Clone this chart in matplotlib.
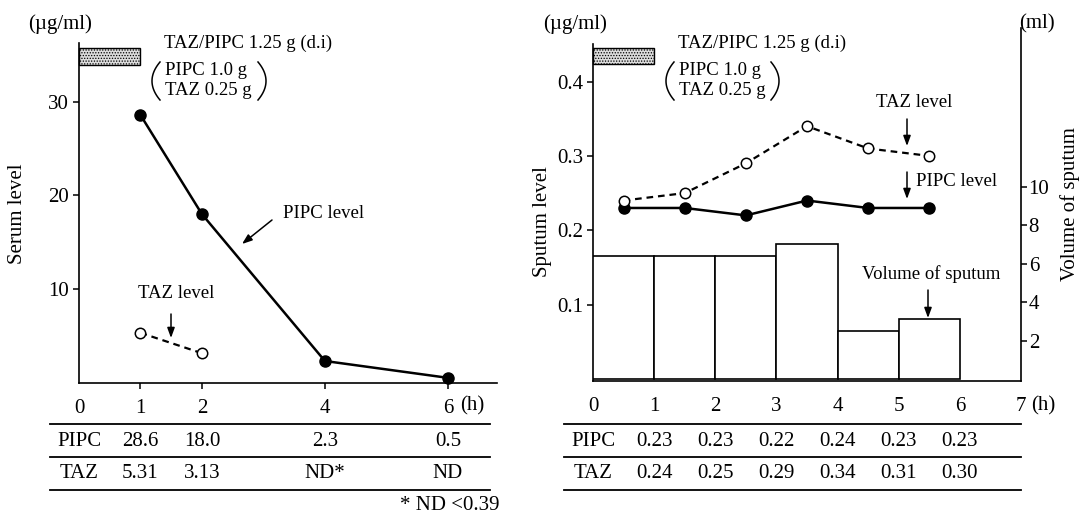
import matplotlib
matplotlib.use('Agg')
import numpy as np
import matplotlib.pyplot as plt
from matplotlib.lines import Line2D
from matplotlib.patches import Rectangle, FancyArrowPatch
import matplotlib.transforms as mtrans

# ---------------- data ----------------
serum_time = [1, 2, 4, 6]
serum_pipc = [28.6, 18.0, 2.3, 0.5]
serum_taz_time = [1, 2]
serum_taz = [5.31, 3.13]
serum_xticks = [0, 1, 2, 4, 6]
serum_yticks = [10, 20, 30]
serum_pipc_labels = ['28.6', '18.0', '2.3', '0.5']
serum_taz_labels = ['5.31', '3.13', 'ND*', 'ND']

sputum_time = [0.5, 1.5, 2.5, 3.5, 4.5, 5.5]
sputum_pipc = [0.23, 0.23, 0.22, 0.24, 0.23, 0.23]
sputum_taz = [0.24, 0.25, 0.29, 0.34, 0.31, 0.30]
sputum_bar_left = [0, 1, 2, 3, 4, 5]
sputum_volume = [6.4, 6.4, 6.4, 7.0, 2.5, 3.1]
sputum_xticks = [0, 1, 2, 3, 4, 5, 6, 7]
sputum_yticks = [0.1, 0.2, 0.3, 0.4]
volume_yticks = [2, 4, 6, 8, 10]
sputum_table_x = [1, 2, 3, 4, 5, 6]
sputum_pipc_labels = ['0.23', '0.23', '0.22', '0.24', '0.23', '0.23']
sputum_taz_labels = ['0.24', '0.25', '0.29', '0.34', '0.31', '0.30']

plt.rcParams['font.family'] = ['Liberation Serif', 'DejaVu Serif']
plt.rcParams['hatch.linewidth'] = 0.6

W, H = 1081, 513
fig = plt.figure(figsize=(W / 100, H / 100), dpi=100)
FS = 13.5      # annotations
FT = 15        # ticks / table
FL = 15        # axis labels


def fx(p):
    return p / W


def fy(p):
    return 1 - p / H


def ftext(x, y, s, **kw):
    kw.setdefault('fontsize', FS)
    kw.setdefault('ha', 'left')
    kw.setdefault('va', 'center')
    fig.text(fx(x), fy(y), s, **kw)


def hline(x0, x1, y, lw=1.3):
    fig.add_artist(Line2D([fx(x0), fx(x1)], [fy(y), fy(y)],
                          transform=fig.transFigure, color='black', lw=lw))


def arrow(x0, y0, x1, y1):
    fig.add_artist(FancyArrowPatch(
        (fx(x0), fy(y0)), (fx(x1), fy(y1)), transform=fig.transFigure,
        arrowstyle='-|>,head_length=6,head_width=2.2', color='black', lw=1.1,
        mutation_scale=1, shrinkA=0, shrinkB=0))


def parens(xl, xr, y0, y1):
    # thin tall "(" and ")" drawn as curves
    t = np.linspace(-1, 1, 40)
    yc = (y0 + y1) / 2
    half = (y1 - y0) / 2
    depth = 8
    ys = yc + half * t
    bulge = depth * (1 - t ** 2)
    for xs in [xl + depth - bulge, xr - depth + bulge]:
        fig.add_artist(Line2D(fx(xs), fy(ys), transform=fig.transFigure,
                              color='black', lw=1.1))


def style_axes(ax):
    for s in ['top', 'right']:
        ax.spines[s].set_visible(False)
    for s in ['left', 'bottom']:
        ax.spines[s].set_linewidth(1.2)
    ax.tick_params(direction='out', length=4, width=1.1, labelsize=FT)
    ax.tick_params(axis='x', pad=8)
    ax.tick_params(axis='y', pad=3)


# ---------------- left: serum ----------------
ax1 = fig.add_axes([fx(79), fy(382.5), (497 - 79) / W, (382.5 - 43) / H])
ax1.set_facecolor('none')
ax1.set_xlim(0, 6.8)
ax1.set_ylim(0, 36.3)
style_axes(ax1)
ax1.set_yticks(serum_yticks)
ax1.set_xticks(serum_xticks)
ax1.set_xticklabels([str(t) for t in serum_xticks])
ax1.xaxis.get_major_ticks()[0].tick1line.set_visible(False)

ax1.plot(serum_time, serum_pipc, color='black', lw=1.8, marker='o',
         markersize=8, markerfacecolor='black', clip_on=False, zorder=3)
ax1.plot(serum_taz_time, serum_taz, color='black', lw=1.6,
         linestyle=(0, (3, 2.2)), marker='o', markersize=7.5,
         markerfacecolor='white', markeredgewidth=1.1, clip_on=False, zorder=3)
ax1.add_patch(Rectangle((0, 34.0), 1, 1.75, facecolor='#dcdcdc',
                        edgecolor='black', hatch='......', lw=1.0,
                        clip_on=False))

ftext(18, 214, 'Serum level', rotation=90, ha='center', fontsize=FL)
ftext(60, 24, '(µg/ml)', ha='center', fontsize=FL)
ftext(164, 43, 'TAZ/PIPC 1.25 g (d.i)')
ftext(165, 71, 'PIPC 1.0 g')
ftext(165, 91, 'TAZ 0.25 g')
parens(152, 266, 62, 100)
ftext(283, 213, 'PIPC level')
arrow(272, 220, 242, 244)
ftext(138, 293, 'TAZ level')
arrow(171, 314, 171, 338)
ftext(460, 406, '(h)', fontsize=FT)

# table left
tr1 = mtrans.blended_transform_factory(ax1.transData, fig.transFigure)
hline(50, 490, 424)
hline(50, 490, 457)
hline(50, 490, 490)
fig.text(0, fy(441), 'PIPC', transform=tr1, ha='center', va='center', fontsize=FT)
fig.text(0, fy(473), 'TAZ', transform=tr1, ha='center', va='center', fontsize=FT)
for x, s in zip(serum_time, serum_pipc_labels):
    fig.text(x, fy(441), s, transform=tr1, ha='center', va='center', fontsize=FT)
for x, s in zip(serum_time, serum_taz_labels):
    fig.text(x, fy(473), s, transform=tr1, ha='center', va='center', fontsize=FT)
ftext(499, 505, '* ND <0.39', ha='right', fontsize=FT)

# ---------------- right: sputum ----------------
ax2 = fig.add_axes([fx(593), fy(380.5), (1021 - 593) / W, (380.5 - 28) / H])
ax2.set_facecolor('none')
ax2.set_xlim(0, 7)
ax2.set_ylim(-0.002, 0.472)
style_axes(ax2)
ax2.spines['left'].set_bounds(-0.002, 0.45)
ax2.set_yticks(sputum_yticks)
ax2.set_yticklabels(['0.1', '0.2', '0.3', '0.4'])
ax2.set_xticks(sputum_xticks)
ax2.tick_params(axis='x', length=0, pad=12)

ax3 = ax2.twinx()
ax3.set_ylim(-0.08, 18.25)
for s in ['top', 'left', 'bottom']:
    ax3.spines[s].set_visible(False)
ax3.spines['right'].set_linewidth(1.2)
ax3.set_yticks(volume_yticks)
ax3.tick_params(direction='out', length=4, width=1.1, labelsize=FT, pad=1.5)
ax3.bar(sputum_bar_left, sputum_volume, width=1, align='edge',
        facecolor='white', edgecolor='black', lw=1.2, zorder=1)

ax4 = fig.add_axes(ax2.get_position(), sharex=ax2, sharey=ax2)
ax4.axis('off')
ax4.plot(sputum_time, sputum_pipc, color='black', lw=1.8, marker='o',
         markersize=8, markerfacecolor='black', zorder=3)
ax4.plot(sputum_time, sputum_taz, color='black', lw=1.6,
         linestyle=(0, (3, 2.2)), marker='o', markersize=7.5,
         markerfacecolor='white', markeredgewidth=1.1, zorder=3)
ax4.add_patch(Rectangle((0, 0.424), 1, 0.021, facecolor='#dcdcdc',
                        edgecolor='black', hatch='......', lw=1.0,
                        clip_on=False))

ftext(542, 222, 'Sputum level', rotation=90, ha='center', fontsize=FL)
ftext(1070, 204, 'Volume of sputum', rotation=90, ha='center', fontsize=FL)
ftext(575, 24, '(µg/ml)', ha='center', fontsize=FL)
ftext(1037, 24, '(ml)', ha='center', fontsize=FL)
ftext(678, 43, 'TAZ/PIPC 1.25 g (d.i)')
ftext(679, 71, 'PIPC 1.0 g')
ftext(679, 91, 'TAZ 0.25 g')
parens(666, 779, 62, 100)
ftext(876, 103, 'TAZ level')
arrow(907, 119, 907, 146)
ftext(916, 181, 'PIPC level')
arrow(907, 172, 907, 199)
ftext(862, 274, 'Volume of sputum')
arrow(928, 290, 928, 318)
ftext(1031, 406, '(h)', fontsize=FT)

# table right
tr2 = mtrans.blended_transform_factory(ax2.transData, fig.transFigure)
hline(564, 1021, 424)
hline(564, 1021, 457)
hline(564, 1021, 490)
fig.text(0, fy(441), 'PIPC', transform=tr2, ha='center', va='center', fontsize=FT)
fig.text(0, fy(473), 'TAZ', transform=tr2, ha='center', va='center', fontsize=FT)
for x, s in zip(sputum_table_x, sputum_pipc_labels):
    fig.text(x, fy(441), s, transform=tr2, ha='center', va='center', fontsize=FT)
for x, s in zip(sputum_table_x, sputum_taz_labels):
    fig.text(x, fy(473), s, transform=tr2, ha='center', va='center', fontsize=FT)

fig.savefig('out.png', dpi=100, facecolor='white')
